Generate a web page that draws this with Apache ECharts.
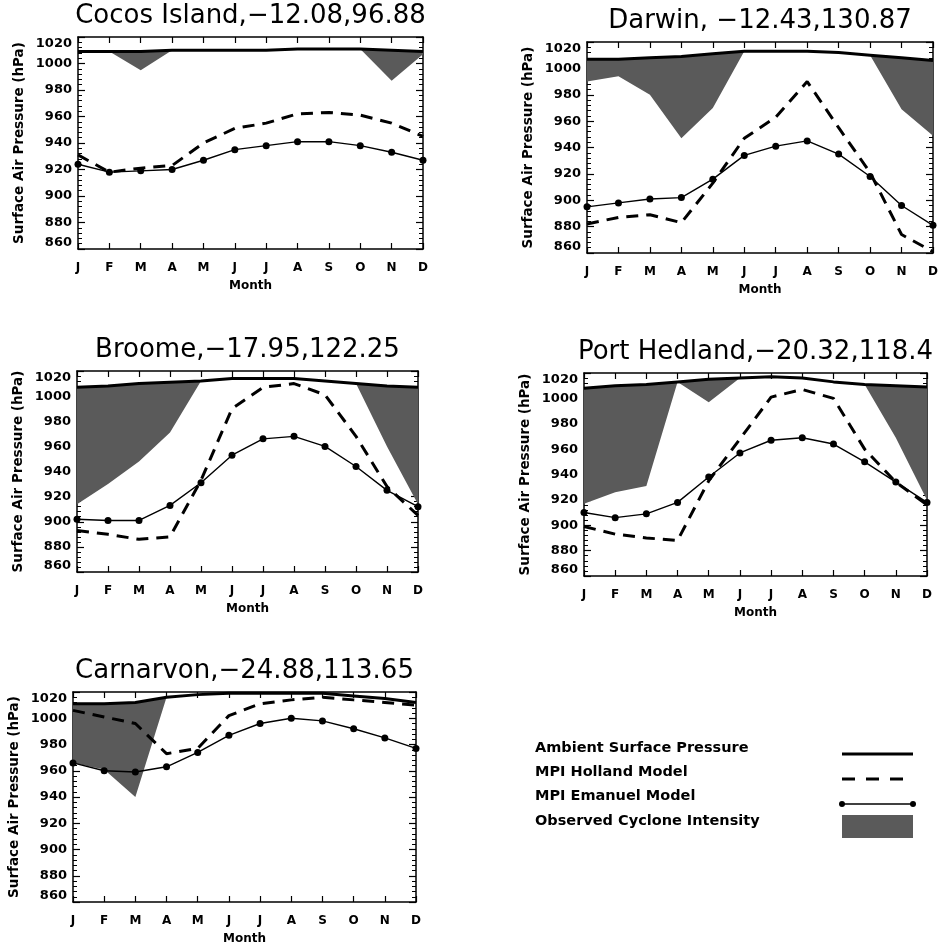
<!DOCTYPE html>
<html>
<head>
<meta charset="utf-8">
<script src="https://cdn.jsdelivr.net/npm/echarts@6/dist/echarts.min.js"></script>
<style>
  html, body { margin: 0; padding: 0; background: #ffffff; }
  #chart { width: 944px; height: 946px; }
</style>
</head>
<body>
<div id="chart"></div>
<script>
// Month initials along the x axis
const months = ['J', 'F', 'M', 'A', 'M', 'J', 'J', 'A', 'S', 'O', 'N', 'D'];
const pressureTicks = [860, 880, 900, 920, 940, 960, 980, 1000, 1020];

// Station titles
const stationTitles = [
  'Cocos Island,\u221212.08,96.88',
  'Darwin, \u221212.43,130.87',
  'Broome,\u221217.95,122.25',
  'Port Hedland,\u221220.32,118.4',
  'Carnarvon,\u221224.88,113.65'
];

// Monthly pressures (hPa) per station
const cocosAmbient  = [1009, 1009, 1009, 1010, 1010, 1010, 1010, 1011, 1011, 1011, 1010, 1009];
const cocosObserved = [1009, 1009, 995, 1010, 1010, 1010, 1010, 1011, 1011, 1011, 987, 1007];
const cocosHolland  = [931, 918, 921, 923, 940, 951, 955, 962, 963, 961, 955, 945];
const cocosEmanuel  = [924, 918, 919, 920, 927, 935, 938, 941, 941, 938, 933, 927];

const darwinAmbient  = [1007, 1007, 1008, 1009, 1011, 1013, 1013, 1013, 1012, 1010, 1008, 1006];
const darwinObserved = [990, 994, 980, 947, 970, 1013, 1013, 1013, 1012, 1010, 969, 949];
const darwinHolland  = [882, 887, 889, 883, 913, 947, 963, 990, 955, 921, 874, 861];
const darwinEmanuel  = [895, 898, 901, 902, 916, 934, 941, 945, 935, 918, 896, 881];

const broomeAmbient  = [1007, 1008, 1010, 1011, 1012, 1014, 1014, 1014, 1012, 1010, 1008, 1007];
const broomeObserved = [914, 930, 948, 971, 1012, 1014, 1014, 1014, 1012, 1010, 960, 914];
const broomeHolland  = [893, 890, 886, 888, 933, 990, 1007, 1010, 1001, 968, 928, 905];
const broomeEmanuel  = [902, 901, 901, 913, 931, 953, 966, 968, 960, 944, 925, 912];

const hedlandAmbient  = [1008, 1010, 1011, 1013, 1015, 1016, 1017, 1016, 1013, 1011, 1010, 1009];
const hedlandObserved = [917, 926, 931, 1013, 997, 1016, 1017, 1016, 1013, 1011, 969, 920];
const hedlandHolland  = [899, 893, 890, 888, 935, 968, 1001, 1007, 1000, 960, 934, 916];
const hedlandEmanuel  = [910, 906, 909, 918, 938, 957, 967, 969, 964, 950, 934, 918];

const carnarvonAmbient  = [1011, 1011, 1012, 1016, 1018, 1019, 1019, 1019, 1019, 1017, 1015, 1012];
const carnarvonObserved = [966, 961, 940, 1016, 1018, 1019, 1019, 1019, 1019, 1017, 1015, 1012];
const carnarvonHolland  = [1006, 1001, 996, 973, 977, 1002, 1011, 1014, 1016, 1014, 1012, 1010];
const carnarvonEmanuel  = [966, 960, 959, 963, 974, 987, 996, 1000, 998, 992, 985, 977];

// Legend entries
const legendLabels = ['Ambient Surface Pressure', 'MPI Holland Model', 'MPI Emanuel Model', 'Observed Cyclone Intensity'];

const panels = [
  { title: stationTitles[0], ambient: cocosAmbient, observed: cocosObserved, holland: cocosHolland, emanuel: cocosEmanuel,
    grid: { left: 78, top: 37, width: 345, height: 212 } },
  { title: stationTitles[1], ambient: darwinAmbient, observed: darwinObserved, holland: darwinHolland, emanuel: darwinEmanuel,
    grid: { left: 587, top: 42, width: 346, height: 211 } },
  { title: stationTitles[2], ambient: broomeAmbient, observed: broomeObserved, holland: broomeHolland, emanuel: broomeEmanuel,
    grid: { left: 77, top: 371, width: 341, height: 201 } },
  { title: stationTitles[3], ambient: hedlandAmbient, observed: hedlandObserved, holland: hedlandHolland, emanuel: hedlandEmanuel,
    grid: { left: 584, top: 373, width: 343, height: 203 } },
  { title: stationTitles[4], ambient: carnarvonAmbient, observed: carnarvonObserved, holland: carnarvonHolland, emanuel: carnarvonEmanuel,
    grid: { left: 73, top: 692, width: 343, height: 212 } }
];

const INK = '#000000';
const SHADE = '#5a5a5a';
const FONT = 'DejaVu Sans';
const HOLLAND_DASH = [12, 8];

const chart = echarts.init(document.getElementById('chart'), null, { renderer: 'canvas' });

const grids = [], xAxes = [], yAxes = [], series = [], titles = [];

panels.forEach((p, i) => {
  grids.push(Object.assign({ containLabel: false }, p.grid));

  titles.push({
    text: p.title,
    left: p.grid.left + p.grid.width / 2,
    top: p.grid.top - 21,
    textAlign: 'center',
    textVerticalAlign: 'middle',
    padding: 0,
    textStyle: { fontFamily: FONT, fontSize: 26, fontWeight: 'normal', color: INK }
  });

  const xBase = {
    gridIndex: i, type: 'value', min: 0, max: months.length - 1, interval: 1,
    axisLine: { show: true, onZero: false, lineStyle: { color: INK, width: 1.5 } },
    axisTick: { show: true, inside: true, length: 6, lineStyle: { color: INK, width: 1.2 } },
    splitLine: { show: false }
  };
  xAxes.push(Object.assign({}, xBase, {
    position: 'bottom',
    axisLabel: { show: true, margin: 13, fontFamily: FONT, fontWeight: 'bold', fontSize: 12, color: INK,
      formatter: v => months[v] },
    name: 'Month', nameLocation: 'middle', nameGap: 31,
    nameTextStyle: { fontFamily: FONT, fontWeight: 'bold', fontSize: 12, color: INK }
  }));
  xAxes.push(Object.assign({}, xBase, { position: 'top', axisLabel: { show: false } }));

  const yBase = {
    gridIndex: i, type: 'value',
    min: pressureTicks[0], max: pressureTicks[pressureTicks.length - 1], interval: 20,
    axisLine: { show: true, onZero: false, lineStyle: { color: INK, width: 1.5 } },
    axisTick: { show: true, inside: true, length: 7, lineStyle: { color: INK, width: 1.2 } },
    minorTick: { show: true, splitNumber: 5, length: 4, lineStyle: { color: INK, width: 1 } },
    splitLine: { show: false }
  };
  yAxes.push(Object.assign({}, yBase, {
    position: 'left',
    axisLabel: { show: true, margin: 6, fontFamily: FONT, fontWeight: 'bold', fontSize: 13, color: INK,
      formatter: v => String(v),
      verticalAlignMinLabel: 'bottom', verticalAlignMaxLabel: 'top' },
    name: 'Surface Air Pressure (hPa)', nameLocation: 'middle', nameGap: 52, nameRotate: 90,
    nameTextStyle: { fontFamily: FONT, fontWeight: 'bold', fontSize: 13.5, color: INK }
  }));
  yAxes.push(Object.assign({}, yBase, { position: 'right', axisLabel: { show: false } }));

  const xi = i * 2, yi = i * 2;
  const pts = arr => arr.map((v, k) => [k, v]);

  // Observed intensity: one filled polygon between ambient (top) and observed (bottom)
  series.push({
    type: 'custom', xAxisIndex: xi, yAxisIndex: yi, silent: true, z: 2,
    data: p.ambient.map((v, k) => [k, v, p.observed[k]]),
    renderItem: (params, api) => {
      if (params.dataIndex !== 0) return null;
      const top = p.ambient.map((v, k) => api.coord([k, v]));
      const bottom = p.observed.map((v, k) => api.coord([k, v])).reverse();
      return {
        type: 'polygon',
        shape: { points: top.concat(bottom) },
        style: { fill: SHADE, stroke: null }
      };
    }
  });
  // Ambient surface pressure
  series.push({
    type: 'line', xAxisIndex: xi, yAxisIndex: yi, data: pts(p.ambient),
    symbol: 'none', lineStyle: { color: INK, width: 3 }, z: 5
  });
  // MPI Holland model
  series.push({
    type: 'line', xAxisIndex: xi, yAxisIndex: yi, data: pts(p.holland),
    symbol: 'none', lineStyle: { color: INK, width: 3, type: HOLLAND_DASH }, z: 4
  });
  // MPI Emanuel model
  series.push({
    type: 'line', xAxisIndex: xi, yAxisIndex: yi, data: pts(p.emanuel),
    symbol: 'circle', symbolSize: 7, itemStyle: { color: INK },
    lineStyle: { color: INK, width: 1.4 }, z: 4
  });
});

// Legend block drawn with plain shapes and text
const legendX = 535, legendRowY = [750, 774, 798, 823];
const keyX1 = 842, keyX2 = 913;
const legendGraphics = legendLabels.map((t, k) => ({
  type: 'text', left: legendX, top: legendRowY[k] - 9,
  style: { text: t, fill: INK, font: 'bold 14.5px "DejaVu Sans"' }
}));
legendGraphics.push(
  { type: 'line', shape: { x1: keyX1, y1: 754, x2: keyX2, y2: 754 }, style: { stroke: INK, lineWidth: 3 } },
  { type: 'line', shape: { x1: keyX1, y1: 779, x2: keyX2, y2: 779 }, style: { stroke: INK, lineWidth: 3, lineDash: [13, 11] } },
  { type: 'line', shape: { x1: keyX1, y1: 804, x2: keyX2, y2: 804 }, style: { stroke: INK, lineWidth: 1.6 } },
  { type: 'circle', shape: { cx: keyX1, cy: 804, r: 3 }, style: { fill: INK } },
  { type: 'circle', shape: { cx: keyX2, cy: 804, r: 3 }, style: { fill: INK } },
  { type: 'rect', shape: { x: keyX1, y: 815, width: keyX2 - keyX1, height: 23 }, style: { fill: SHADE } }
);

chart.setOption({
  backgroundColor: '#ffffff',
  animation: false,
  title: titles,
  grid: grids,
  xAxis: xAxes,
  yAxis: yAxes,
  series: series,
  graphic: legendGraphics
});
</script>
</body>
</html>
